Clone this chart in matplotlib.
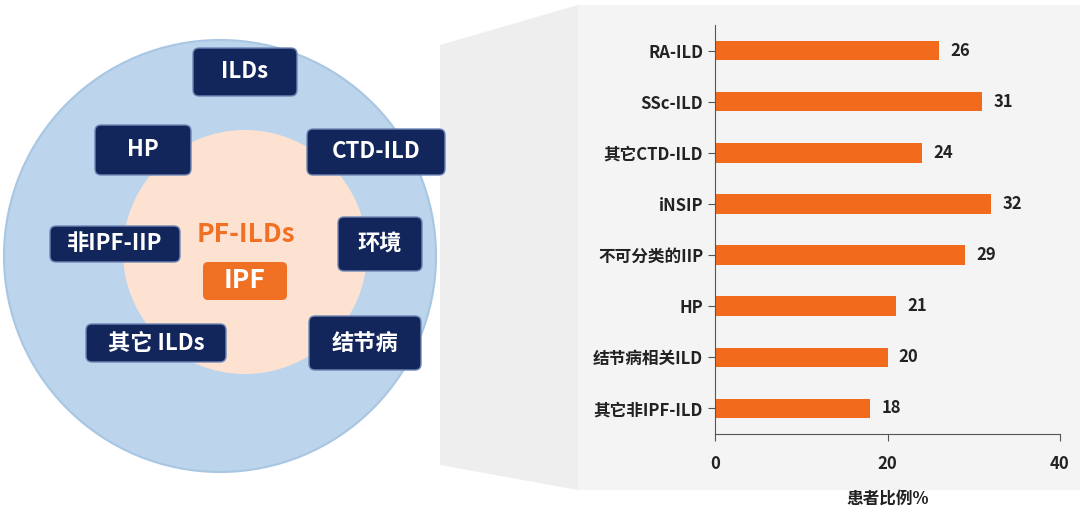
import matplotlib
matplotlib.use("Agg")
import matplotlib.pyplot as plt
from matplotlib.patches import Circle, FancyBboxPatch, Polygon, Rectangle

plt.rcParams['font.family'] = ['Noto Sans CJK SC', 'DejaVu Sans']

categories = ["RA-ILD", "SSc-ILD", "其它CTD-ILD", "iNSIP", "不可分类的IIP", "HP", "结节病相关ILD", "其它非IPF-ILD"]
values = [26, 31, 24, 32, 29, 21, 20, 18]
xticks = [0, 20, 40]
box_labels = ["ILDs", "HP", "CTD-ILD", "非IPF-IIP", "环境", "其它 ILDs", "结节病"]

fig = plt.figure(figsize=(10.8, 5.14), dpi=100)
bg = fig.add_axes([0, 0, 1, 1])
bg.set_xlim(0, 1080); bg.set_ylim(514, 0); bg.axis('off')

# right panel background and funnel
bg.add_patch(Polygon([(440, 45), (578, 5), (578, 490), (440, 465)], closed=True, fc='#eeeeee', ec='none'))
bg.add_patch(Rectangle((578, 5), 502, 485, fc='#f4f4f4', ec='none'))

# circles
bg.add_patch(Circle((220, 256), 216, fc='#bcd5ec', ec='#a9c6e2', lw=1.5))
bg.add_patch(Circle((245, 252), 122, fc='#fde2d2', ec='none'))

navy = '#13265c'
boxes = [(245, 72, 104, 48), (143, 150, 96, 50), (376, 152, 138, 46), (115, 244, 130, 36),
         (380, 244, 84, 54), (156, 343, 140, 38), (365, 343, 112, 54)]
for (cx, cy, w, h), lab in zip(boxes, box_labels):
    bg.add_patch(FancyBboxPatch((cx - w/2, cy - h/2), w, h, boxstyle="round,pad=0,rounding_size=6",
                                fc=navy, ec='#6f86b5', lw=1))
    bg.text(cx, cy, lab, color='white', fontsize=16, fontweight='bold', ha='center', va='center')

bg.text(246, 234, "PF-ILDs", color='#f07024', fontsize=19, fontweight='bold', ha='center', va='center')
bg.add_patch(FancyBboxPatch((203, 262), 84, 38, boxstyle="round,pad=0,rounding_size=5", fc='#f07024', ec='none'))
bg.text(245, 281, "IPF", color='white', fontsize=19, fontweight='bold', ha='center', va='center')

# bar chart
ax = fig.add_axes([715/1080, 1 - 434/514, 345/1080, 409/514])
ax.patch.set_alpha(0)
y = list(range(len(categories)))
ax.barh(y, values, height=0.38, color='#f26b1d')
ax.set_ylim(7.5, -0.5)
ax.set_xlim(0, 40)
ax.set_yticks(y)
ax.set_yticklabels(categories, fontsize=12, fontweight='bold', color='#222222')
ax.set_xticks(xticks)
ax.set_xticklabels([str(t) for t in xticks], fontsize=12, fontweight='bold', color='#222222')
for yi, v in zip(y, values):
    ax.text(v + 1.3, yi, str(v), va='center', ha='left', fontsize=12, fontweight='bold', color='#222222')
for s in ['top', 'right']:
    ax.spines[s].set_visible(False)
ax.spines['left'].set_color('#555555')
ax.spines['bottom'].set_color('#555555')
ax.tick_params(axis='y', length=5, direction='out', color='#555555')
ax.tick_params(axis='x', length=5, direction='out', color='#555555', pad=10)
ax.set_xlabel("患者比例%", fontsize=12, fontweight='bold', color='#222222', labelpad=12)

fig.savefig("out.png", dpi=100)
